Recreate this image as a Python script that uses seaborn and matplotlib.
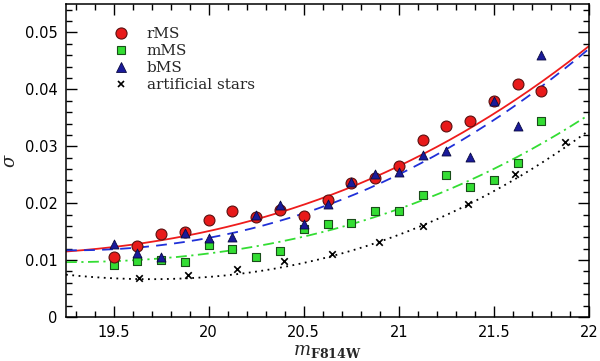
import numpy as np
import pandas as pd
import matplotlib
matplotlib.use("Agg")
import matplotlib.pyplot as plt
import seaborn as sns
from matplotlib.ticker import MultipleLocator, FixedFormatter, FixedLocator
from matplotlib.lines import Line2D

# ---- data ----
mag = [19.5, 19.625, 19.75, 19.875, 20.0, 20.125, 20.25, 20.375, 20.5, 20.625,
       20.75, 20.875, 21.0, 21.125, 21.25, 21.375, 21.5, 21.625, 21.75]
rMS = [0.0106, 0.0125, 0.0146, 0.0149, 0.0171, 0.0187, 0.0176, 0.0188, 0.0178, 0.0205,
       0.0236, 0.0245, 0.0266, 0.0311, 0.0336, 0.0344, 0.0380, 0.0409, 0.0397]
bMS = [0.0129, 0.0113, 0.0106, 0.0147, 0.0139, 0.0140, 0.0179, 0.0197, 0.0164, 0.0198,
       0.0237, 0.0252, 0.0254, 0.0284, 0.0292, 0.0281, 0.0380, 0.0336, 0.0461]
mMS = [0.0091, 0.0098, 0.0100, 0.0097, 0.0126, 0.0120, 0.0105, 0.0116, 0.0154, 0.0164,
       0.0166, 0.0187, 0.0187, 0.0214, 0.0250, 0.0228, 0.0240, 0.0270, 0.0344]
art_mag = [19.636, 19.89, 20.15, 20.396, 20.648, 20.897, 21.129, 21.364, 21.61, 21.873]
art_sig = [0.0069, 0.0073, 0.0085, 0.0098, 0.0111, 0.0132, 0.0160, 0.0199, 0.0251, 0.0307]

# fitted curves
curve_mag = [19.25, 19.5, 19.75, 20.0, 20.25, 20.5, 20.75, 21.0, 21.25, 21.5, 21.75, 22.0]
curve_r = [0.0118, 0.0121, 0.0131, 0.0150, 0.0173, 0.0200, 0.0231, 0.0266, 0.0307, 0.0354, 0.0411, 0.0479]
curve_b = [0.0118, 0.0119, 0.0125, 0.0138, 0.0158, 0.0183, 0.0214, 0.0251, 0.0295, 0.0345, 0.0403, 0.0473]
curve_m = [0.0097, 0.0098, 0.0102, 0.0111, 0.0124, 0.0142, 0.0164, 0.0191, 0.0222, 0.0259, 0.0303, 0.0357]
curve_a = [0.0074, 0.0068, 0.0067, 0.0071, 0.0080, 0.0095, 0.0116, 0.0143, 0.0178, 0.0223, 0.0273, 0.0326]

xticks = [19.5, 20, 20.5, 21, 21.5, 22]
xticklabels = ["19.5", "20", "20.5", "21", "21.5", "22"]
yticks = [0, 0.01, 0.02, 0.03, 0.04, 0.05]
yticklabels = ["0", "0.01", "0.02", "0.03", "0.04", "0.05"]

sns.set_style("ticks")
plt.rcParams["font.family"] = ["DejaVu Sans"]
plt.rcParams["mathtext.fontset"] = "dejavuserif"

fig = plt.figure(figsize=(6.0, 3.61), dpi=100)
ax = fig.add_axes([66/600, 44/361, 523/600, 313/361])

# smooth curves
grid = np.linspace(19.25, 22.0, 200)
curves = [
    (curve_r, "#ee1c1c", (0, ()), 1.3),
    (curve_b, "#2030d8", (0, (6, 4)), 1.3),
    (curve_m, "#33dd33", (0, (6, 2.5, 1.2, 2.5)), 1.3),
    (curve_a, "black", (0, (1, 2.5)), 1.3),
]
for vals, col, ls, lw in curves:
    coef = np.polyfit(curve_mag, vals, 3)
    df = pd.DataFrame({"m": grid, "s": np.polyval(coef, grid)})
    sns.lineplot(data=df, x="m", y="s", ax=ax, color=col, linestyle=ls, lw=lw,
                 sort=False, estimator=None, zorder=2)

# points
sns.scatterplot(x=mag, y=mMS, ax=ax, marker="s", s=30, color="#33dd33",
                edgecolor="#1a4d1a", linewidth=0.8, zorder=3)
sns.scatterplot(x=art_mag, y=art_sig, ax=ax, marker="x", s=22, color="black",
                linewidth=1.2, zorder=3)
sns.scatterplot(x=mag, y=rMS, ax=ax, marker="o", s=62, color="#e81a1a",
                edgecolor="#5a1010", linewidth=0.8, zorder=4)
sns.scatterplot(x=mag, y=bMS, ax=ax, marker="^", s=42, color="#1a1a9a",
                edgecolor="#0a0a40", linewidth=0.6, zorder=5)

ax.set_xlim(19.25, 22.0)
ax.set_ylim(0, 0.055)
ax.xaxis.set_major_locator(FixedLocator(xticks))
ax.xaxis.set_major_formatter(FixedFormatter(xticklabels))
ax.yaxis.set_major_locator(FixedLocator(yticks))
ax.yaxis.set_major_formatter(FixedFormatter(yticklabels))
ax.xaxis.set_minor_locator(MultipleLocator(0.1))
ax.yaxis.set_minor_locator(MultipleLocator(0.002))
ax.tick_params(which="both", direction="in", top=True, right=True, width=1.0,
               labelsize=10.5, colors="black")
ax.tick_params(which="major", length=8, pad=6)
ax.tick_params(which="minor", length=4.5)
for sp in ax.spines.values():
    sp.set_linewidth(1.1)
    sp.set_color("black")

ax.set_xlabel(r"$m_{\mathbf{F814W}}$", fontsize=13, labelpad=1)
ax.set_ylabel(r"$\sigma$", fontsize=13, labelpad=4)

handles = [
    Line2D([], [], ls="none", marker="o", ms=8, mfc="#e81a1a", mec="#5a1010", mew=0.8),
    Line2D([], [], ls="none", marker="s", ms=5.5, mfc="#33dd33", mec="#1a4d1a", mew=0.8),
    Line2D([], [], ls="none", marker="^", ms=6.5, mfc="#1a1a9a", mec="#0a0a40", mew=0.6),
    Line2D([], [], ls="none", marker="x", ms=5, mec="black", mew=1.2),
]
labels = ["rMS", "mMS", "bMS", "artificial stars"]
leg = ax.legend(handles, labels, loc="upper left", bbox_to_anchor=(0.078, 0.945),
                frameon=False, handletextpad=1.2, labelspacing=0.18,
                prop={"family": "DejaVu Serif", "size": 11}, borderaxespad=0,
                handlelength=1.0, handleheight=0.5)

fig.savefig("out.png", dpi=100)
